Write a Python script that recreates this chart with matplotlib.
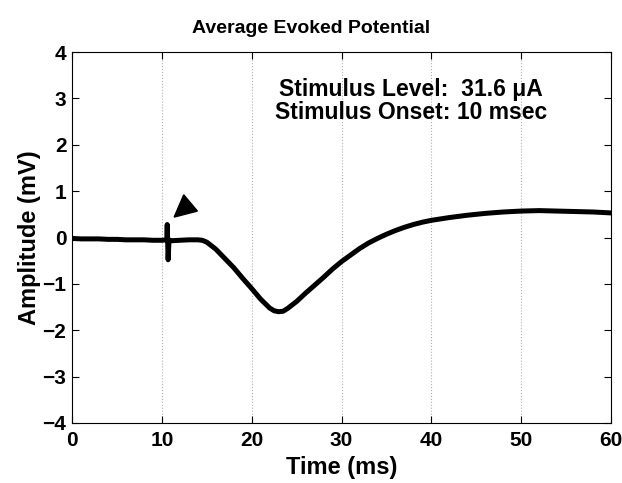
import matplotlib.pyplot as plt
from matplotlib.patches import Polygon

plt.rcParams["font.family"] = ["Liberation Sans", "DejaVu Sans"]
plt.rcParams["font.weight"] = "bold"

# Averaged trace (ms, mV)
time_ms = [0, 1, 2, 3, 4, 5, 6, 7, 8, 9, 10, 10.55, 10.6, 10.7, 10.8,
           11, 12, 13, 14, 14.5, 15, 16, 17, 18, 19, 20, 21, 22, 22.5,
           23, 23.5, 24, 25, 26, 27, 28, 29, 30, 31, 32, 33, 34, 35, 36,
           37, 38, 39, 40, 42, 44, 46, 48, 50, 52, 54, 56, 58, 60]
amplitude_mv = [-0.02, -0.03, -0.03, -0.03, -0.04, -0.04, -0.05, -0.05,
                -0.05, -0.06, -0.06, -0.05, 0.28, -0.48, -0.05,
                -0.07, -0.06, -0.05, -0.05, -0.06, -0.1, -0.25, -0.45,
                -0.65, -0.88, -1.1, -1.33, -1.52, -1.58,
                -1.6, -1.59, -1.53, -1.38, -1.2, -1.03, -0.86, -0.68,
                -0.52, -0.38, -0.24, -0.12, -0.02, 0.07, 0.15,
                0.22, 0.28, 0.33, 0.37, 0.43, 0.48, 0.52, 0.55, 0.57,
                0.58, 0.57, 0.56, 0.55, 0.53]

x_ticks = [0, 10, 20, 30, 40, 50, 60]
y_ticks = [-4, -3, -2, -1, 0, 1, 2, 3, 4]

# arrowhead marking the stimulus
marker_triangle = [(11.37, 0.44), (12.44, 0.92), (13.96, 0.57)]

fig = plt.figure(figsize=(6.22, 4.83), dpi=100)
ax = fig.add_axes([72 / 622, 60 / 483, 539 / 622, 371 / 483])

for xt in x_ticks[1:-1]:
    ax.axvline(xt, color="#b0b0b0", linestyle=":", linewidth=0.8, zorder=0)

ax.plot(time_ms, amplitude_mv, color="black", linewidth=3.6,
        solid_joinstyle="round", solid_capstyle="round")
ax.add_patch(Polygon(marker_triangle, closed=True, color="black"))

ax.set_xlim(0, 60)
ax.set_ylim(-4, 4)
ax.set_xticks(x_ticks)
ax.set_yticks(y_ticks)
ax.tick_params(direction="in", top=True, right=True, labelsize=15, length=5,
               pad=4)
ax.tick_params(axis="x", pad=6)
for lbl in ax.get_xticklabels() + ax.get_yticklabels():
    lbl.set_fontweight("bold")

ax.set_xlabel("Time (ms)", fontsize=17, fontweight="bold", labelpad=4)
ax.set_ylabel("Amplitude (mV)", fontsize=17, fontweight="bold", labelpad=1)
ax.set_title("Average Evoked Potential", fontsize=14, fontweight="bold",
             pad=14, x=0.443)

ax.text(0.629, 0.90, "Stimulus Level:  31.6 \u03bcA", transform=ax.transAxes,
        ha="center", va="center", fontsize=16.5, fontweight="bold")
ax.text(0.629, 0.838, "Stimulus Onset: 10 msec", transform=ax.transAxes,
        ha="center", va="center", fontsize=16.5, fontweight="bold")

fig.savefig("out.png", dpi=100)
